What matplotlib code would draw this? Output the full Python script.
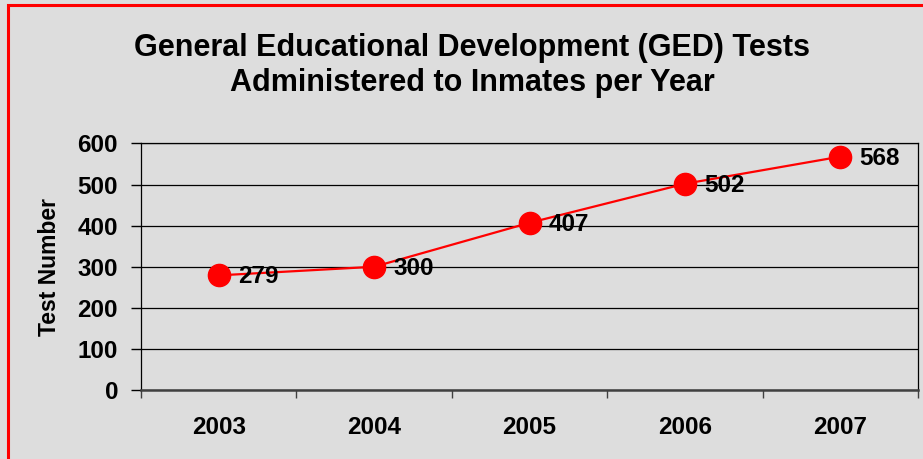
import matplotlib as mpl
mpl.use('Agg')
import matplotlib.pyplot as plt
from matplotlib.patches import Rectangle

years = ["2003", "2004", "2005", "2006", "2007"]
tests = [279, 300, 407, 502, 568]
yticks = [0, 100, 200, 300, 400, 500, 600]

W, H = 923, 459
bg = '#dddddd'
plt.rcParams['font.family'] = ['Liberation Sans', 'DejaVu Sans']
plt.rcParams['font.weight'] = 'bold'

fig = plt.figure(figsize=(W / 100, H / 100), dpi=100, facecolor=bg)

# red frame (right and bottom edges are cut off in the original)
fig.patches.append(Rectangle((8 / W, -0.1), 1.2, 1 - 5 / H + 0.1, transform=fig.transFigure,
                             fill=False, edgecolor='#ff0000', linewidth=2.2))

ax = fig.add_axes([141 / W, 69 / H, (918 - 141) / W, (390 - 143.5) / H])
ax.set_facecolor(bg)

x = list(range(len(years)))
ax.plot(x, tests, color='#ff0000', linewidth=1.6, marker='o', markersize=16,
        markerfacecolor='#ff0000', markeredgecolor='#ff0000', zorder=3)
for xi, v in zip(x, tests):
    ax.annotate(str(v), (xi, v), xytext=(14, -1), textcoords='offset points',
                ha='left', va='center', fontsize=17.5, fontweight='bold', zorder=4)

ax.set_xlim(-0.5, len(years) - 0.5)
ax.set_ylim(0, 600)
ax.set_yticks(yticks)
ax.yaxis.grid(True, color='black', linewidth=0.9)
ax.set_axisbelow(True)

ax.set_xticks(x)
ax.set_xticklabels(years, fontsize=17.5, fontweight='bold')
ax.tick_params(axis='x', which='major', length=0, pad=19)
ax.set_xticks([i - 0.5 for i in range(len(years) + 1)], minor=True)
ax.tick_params(axis='x', which='minor', length=6, width=1, color='#404040', direction='out')
ax.tick_params(axis='y', length=7, width=1, pad=9.5, labelsize=17.5)
for lab in ax.get_yticklabels():
    lab.set_fontweight('bold')

for s in ['left', 'right', 'top']:
    ax.spines[s].set_color('black')
    ax.spines[s].set_linewidth(0.9)
ax.spines['bottom'].set_color('#404040')
ax.spines['bottom'].set_linewidth(1.8)

ax.set_ylabel("Test Number", fontsize=16.5, fontweight='bold')
ax.yaxis.set_label_coords(-80 / (918 - 141), 0.5)

fig.text(472 / W, 1 - 65.5 / H,
         "General Educational Development (GED) Tests\nAdministered to Inmates per Year",
         ha='center', va='center', fontsize=22, fontweight='bold', linespacing=1.25)

plt.savefig("out.png", dpi=100, facecolor=bg)
